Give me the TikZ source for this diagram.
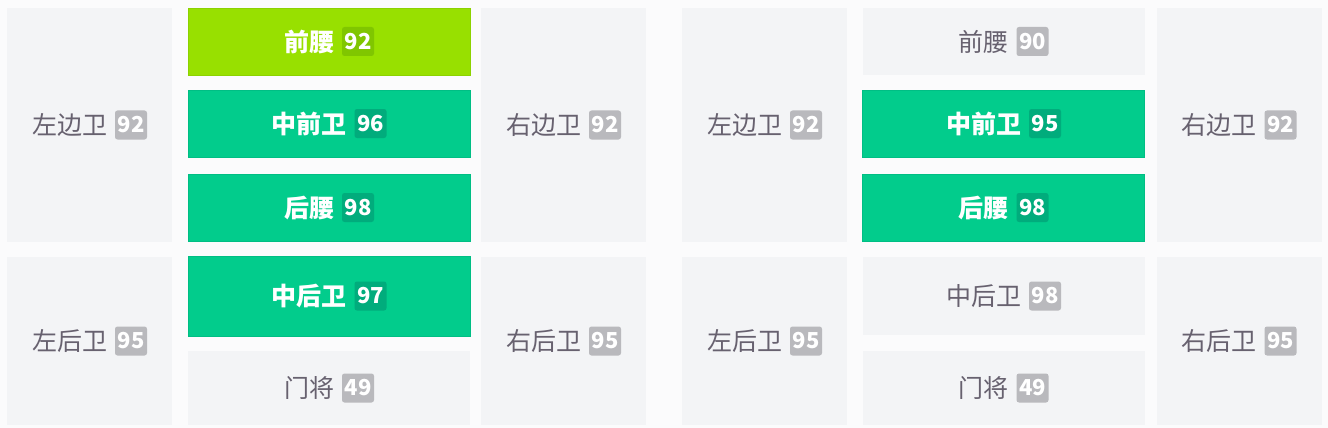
\documentclass[tikz,border=0pt]{standalone}
\usepackage{fontspec}
\setmainfont{Noto Sans CJK SC}
\definecolor{pagebg}{HTML}{FBFBFC}
\definecolor{cellgray}{HTML}{F3F4F6}
\definecolor{txtgray}{HTML}{67616F}
\definecolor{badgegray}{HTML}{B9B9BD}
\definecolor{grn}{HTML}{02CC8C}
\definecolor{grnedge}{HTML}{00BE84}
\definecolor{grnbadge}{HTML}{01AC7C}
\definecolor{lime}{HTML}{98E000}
\definecolor{limeedge}{HTML}{8CD200}
\definecolor{limebadge}{HTML}{80C600}
\newcommand\bdg[2]{\tikz[baseline={([yshift=-2pt]b.base)}]\node[fill=#1, rounded corners=2.5pt, minimum width=32pt, minimum height=29pt, inner sep=0pt, text=white, font=\fontsize{22}{22}\selectfont\bfseries] (b) {#2};}
\tikzset{
  cell/.style={fill=cellgray, draw=none, inner sep=0pt, text=txtgray, font=\fontsize{25}{25}\selectfont},
  greencell/.style={fill=grn, draw=grnedge, line width=0.8pt, inner sep=0pt, text=white, font=\fontsize{25}{25}\selectfont\bfseries},
  limecell/.style={fill=lime, draw=limeedge, line width=0.8pt, inner sep=0pt, text=white, font=\fontsize{25}{25}\selectfont\bfseries},
  side/.style={minimum width=165pt, minimum height=234pt},
  sideb/.style={minimum width=165pt, minimum height=168pt},
  mid/.style={minimum width=282pt, minimum height=67pt}
}
\begin{document}
\begin{tikzpicture}[x=1pt,y=-1pt]
\fill[pagebg] (0,0) rectangle (1328,428);
\useasboundingbox (0,0) rectangle (1328,428);
% left half
\node[cell, side] (lb1) at (89.5,125) {左边卫\hspace{8pt}\bdg{badgegray}{92}};
\node[limecell, mid] (cam1) at (329,41.5) {前腰\hspace{8pt}\bdg{limebadge}{92}};
\node[greencell, mid] (cf1) at (329,123.5) {中前卫\hspace{8pt}\bdg{grnbadge}{96}};
\node[greencell, mid] (dm1) at (329,207.5) {后腰\hspace{8pt}\bdg{grnbadge}{98}};
\node[cell, side] (rb1) at (563.5,125) {右边卫\hspace{8pt}\bdg{badgegray}{92}};
\node[cell, sideb] (lbb1) at (89.5,341) {左后卫\hspace{8pt}\bdg{badgegray}{95}};
\node[greencell, minimum width=282pt, minimum height=80pt] (cb1) at (329,296) {中后卫\hspace{8pt}\bdg{grnbadge}{97}};
\node[cell, minimum width=282pt, minimum height=74pt] (gk1) at (329,388) {门将\hspace{8pt}\bdg{badgegray}{49}};
\node[cell, sideb] (rbb1) at (563.5,341) {右后卫\hspace{8pt}\bdg{badgegray}{95}};
% right half
\node[cell, side] (lb2) at (764.5,125) {左边卫\hspace{8pt}\bdg{badgegray}{92}};
\node[cell, mid] (cam2) at (1003.5,41.5) {前腰\hspace{8pt}\bdg{badgegray}{90}};
\node[greencell, mid] (cf2) at (1003.5,123.5) {中前卫\hspace{8pt}\bdg{grnbadge}{95}};
\node[greencell, mid] (dm2) at (1003.5,207.5) {后腰\hspace{8pt}\bdg{grnbadge}{98}};
\node[cell, side] (rb2) at (1239,125) {右边卫\hspace{8pt}\bdg{badgegray}{92}};
\node[cell, sideb] (lbb2) at (764.5,341) {左后卫\hspace{8pt}\bdg{badgegray}{95}};
\node[cell, minimum width=282pt, minimum height=78pt] (cb2) at (1003.5,296) {中后卫\hspace{8pt}\bdg{badgegray}{98}};
\node[cell, minimum width=282pt, minimum height=74pt] (gk2) at (1003.5,388) {门将\hspace{8pt}\bdg{badgegray}{49}};
\node[cell, sideb] (rbb2) at (1239,341) {右后卫\hspace{8pt}\bdg{badgegray}{95}};
\end{tikzpicture}
\end{document}
